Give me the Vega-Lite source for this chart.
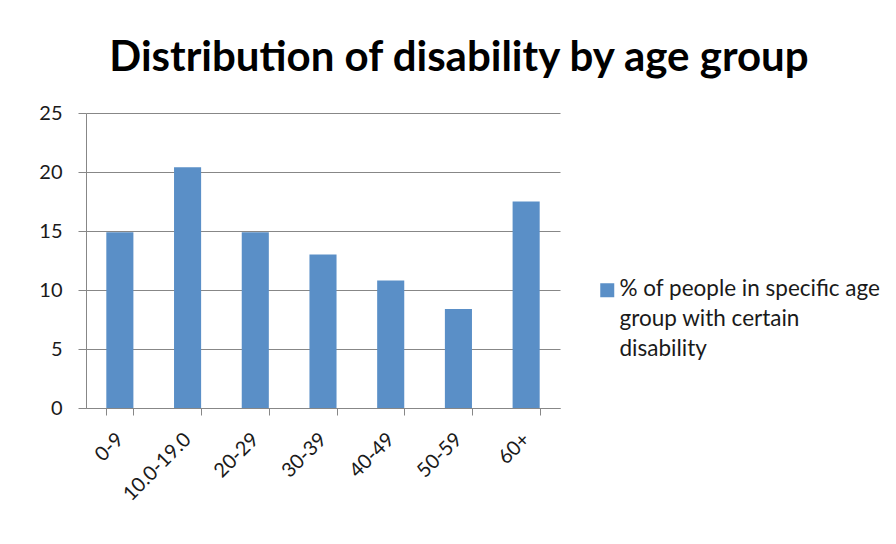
{
  "$schema": "https://vega.github.io/schema/vega-lite/v6.json",
  "width": 474,
  "height": 295,
  "autosize": {"type": "none"},
  "padding": {"left": 86, "top": 113, "right": 336, "bottom": 136},
  "background": "white",
  "title": {
    "text": "Distribution of disability by age group",
    "font": "Lato",
    "fontWeight": "bold",
    "fontSize": 42,
    "color": "black",
    "anchor": "middle",
    "frame": "group",
    "dx": 136,
    "offset": 23
  },
  "data": {
    "values": [
      {"age": "0-9", "pct": 14.9, "series": "% of people in specific age group with certain disability"},
      {"age": "10.0-19.0", "pct": 20.4, "series": "% of people in specific age group with certain disability"},
      {"age": "20-29", "pct": 14.9, "series": "% of people in specific age group with certain disability"},
      {"age": "30-39", "pct": 13.0, "series": "% of people in specific age group with certain disability"},
      {"age": "40-49", "pct": 10.8, "series": "% of people in specific age group with certain disability"},
      {"age": "50-59", "pct": 8.4, "series": "% of people in specific age group with certain disability"},
      {"age": "60+", "pct": 17.5, "series": "% of people in specific age group with certain disability"}
    ]
  },
  "mark": {"type": "bar"},
  "encoding": {
    "x": {
      "field": "age",
      "type": "nominal",
      "sort": null,
      "scale": {"paddingInner": 0.6, "paddingOuter": 0.3},
      "axis": {
        "title": null,
        "tickBand": "extent",
        "domainColor": "#878787",
        "tickColor": "#878787",
        "tickSize": 7,
        "labelAngle": -45,
        "labelAlign": "right",
        "labelBaseline": "middle",
        "labelFont": "Lato",
        "labelFontSize": 20,
        "labelColor": "#1a1a1a",
        "labelPadding": 21,
        "grid": false
      }
    },
    "y": {
      "field": "pct",
      "type": "quantitative",
      "scale": {"domain": [0, 25]},
      "axis": {
        "title": null,
        "values": [0, 5, 10, 15, 20, 25],
        "grid": true,
        "gridColor": "#878787",
        "domainColor": "#878787",
        "tickColor": "#878787",
        "tickSize": 8,
        "labelPadding": 16,
        "labelFont": "Lato",
        "labelFontSize": 20,
        "labelColor": "#1a1a1a"
      }
    },
    "color": {
      "field": "series",
      "type": "nominal",
      "scale": {"range": ["#5a8fc7"]},
      "legend": {
        "title": null,
        "orient": "none",
        "legendX": 510,
        "legendY": 166,
        "symbolType": "square",
        "symbolSize": 196,
        "symbolStrokeWidth": 0,
        "labelFont": "Lato",
        "labelFontSize": 22.5,
        "labelColor": "#1a1a1a",
        "labelLimit": 400,
        "labelExpr": "['% of people in specific age', 'group with certain', 'disability']",
        "labelBaseline": "top",
        "labelOffset": 1,
        "encode": {"labels": {"update": {"lineHeight": {"value": 30}, "dy": {"value": -12}}}}
      }
    }
  },
  "config": {"view": {"stroke": null}}
}
